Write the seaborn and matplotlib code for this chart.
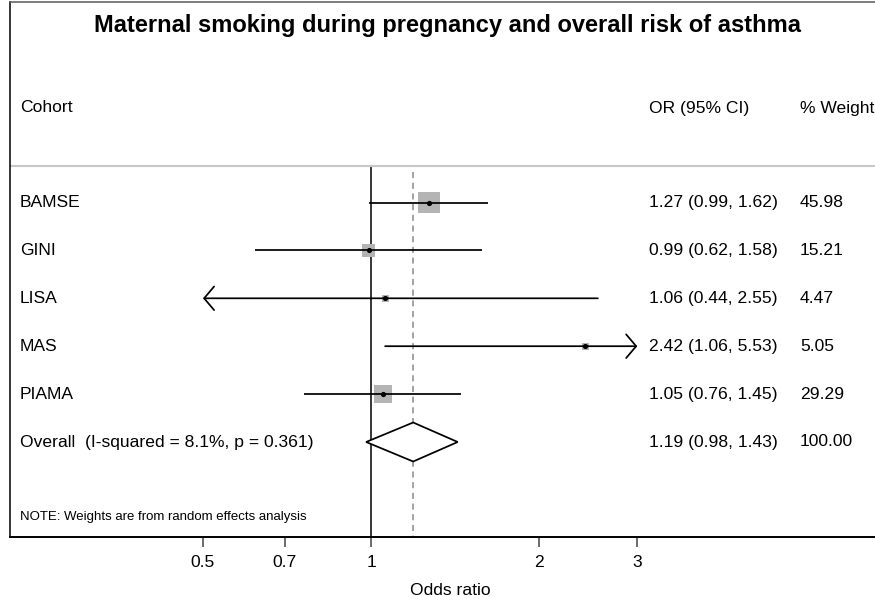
import numpy as np
import pandas as pd
import matplotlib
matplotlib.use("Agg")
import matplotlib.pyplot as plt
import matplotlib.transforms as mtransforms
from matplotlib.ticker import NullLocator, FixedLocator, FixedFormatter
import seaborn as sns

# ---- data -------------------------------------------------------------
title = "Maternal smoking during pregnancy and overall risk of asthma"
cohorts = ["BAMSE", "GINI", "LISA", "MAS", "PIAMA"]
odds_ratio = [1.27, 0.99, 1.06, 2.42, 1.05]
ci_low = [0.99, 0.62, 0.44, 1.06, 0.76]
ci_high = [1.62, 1.58, 2.55, 5.53, 1.45]
weights = [45.98, 15.21, 4.47, 5.05, 29.29]

overall_label = "Overall  (I-squared = 8.1%, p = 0.361)"
overall_or = 1.19
overall_low = 0.98
overall_high = 1.43
overall_weight = 100.00

tick_values = [0.5, 0.7, 1, 2, 3]
tick_labels = ["0.5", "0.7", "1", "2", "3"]
plot_range = (0.5, 3)          # intervals beyond this are drawn as arrows
note = "NOTE: Weights are from random effects analysis"

# ---- layout (pixels of the 875 x 597 canvas) --------------------------
W, H = 875, 597
FRAME_L, FRAME_R, FRAME_T, FRAME_B = 10, 890, 2, 537
ONE_PX, PX_PER_LOG = 371, 242.4      # where OR = 1 sits, and log-scale stretch
ROW0_PX, ROW_PX = 202.5, 47.9        # first study row and row spacing


def ypx(p):
    return (p - ROW0_PX) / ROW_PX


def xfrac(p):
    return (p - FRAME_L) / (FRAME_R - FRAME_L)


sns.set_theme(style="white")
plt.rcParams["font.family"] = ["Liberation Sans", "DejaVu Sans"]
plt.rcParams["text.color"] = "black"
plt.rcParams["axes.labelcolor"] = "black"
plt.rcParams["xtick.color"] = "black"

fig = plt.figure(figsize=(W / 100, H / 100), dpi=100)
ax = fig.add_axes([FRAME_L / W, (H - FRAME_B) / H,
                   (FRAME_R - FRAME_L) / W, (FRAME_B - FRAME_T) / H])
ax.set_xscale("log")

rows = np.arange(len(cohorts))
df = pd.DataFrame({
    "cohort": cohorts,
    "or_": odds_ratio,
    "row": rows,
    # Stata-style boxes: area proportional to the study weight
    "box_area": 5.44 * np.asarray(weights),
})

amin, amax = df["box_area"].min(), df["box_area"].max()
sns.scatterplot(data=df, x="or_", y="row", size="box_area",
                sizes=(amin, amax), size_norm=(amin, amax),
                marker="s", color="#b4b4b4", linewidth=0,
                legend=False, ax=ax, zorder=2)
sns.scatterplot(data=df, x="or_", y="row", s=14, color="black",
                linewidth=0, legend=False, ax=ax, zorder=4)

# confidence intervals, with arrows where they leave the plotted range
lo_lim, hi_lim = plot_range
for r, lo, hi in zip(rows, ci_low, ci_high):
    lo_c, hi_c = max(lo, lo_lim), min(hi, hi_lim)
    if lo < lo_lim or hi > hi_lim:
        start, end = (hi_c, lo_c) if lo < lo_lim else (lo_c, hi_c)
        ax.annotate("", xy=(end, r), xytext=(start, r),
                    arrowprops=dict(arrowstyle="->,head_length=0.72,head_width=0.85",
                                    mutation_scale=10, lw=1.25, color="black",
                                    shrinkA=0, shrinkB=0), zorder=3)
    else:
        ax.hlines(r, lo_c, hi_c, color="black", lw=1.25, zorder=3)

# pooled estimate diamond
orow = len(cohorts)
half = 19.5 / ROW_PX
ax.fill([overall_low, overall_or, overall_high, overall_or],
        [orow, orow - half, orow, orow + half],
        facecolor="white", edgecolor="black", lw=1.25, zorder=3)

ybot, ytop = ypx(FRAME_B), ypx(FRAME_T)
ax.set_xlim(np.exp((FRAME_L - ONE_PX) / PX_PER_LOG),
            np.exp((FRAME_R - ONE_PX) / PX_PER_LOG))
ax.set_ylim(ybot, ytop)

# reference lines
ax.vlines(1, ypx(166), ybot, color="black", lw=1.1, zorder=1)
ax.vlines(overall_or, ypx(172), ybot, color="#8a8a8a", lw=1.1,
          linestyles=(0, (4, 3)), zorder=1)
ax.axhline(ypx(166), color="#c8c8c8", lw=1.5, zorder=1)

# text columns
tr = mtransforms.blended_transform_factory(ax.transAxes, ax.transData)
fs = 12.6
col_label, col_ci, col_w = xfrac(20), xfrac(649), xfrac(800)
hy = ypx(108)
ax.text(col_label, hy, "Cohort", transform=tr, ha="left", va="center", fontsize=fs)
ax.text(col_ci, hy, "OR (95% CI)", transform=tr, ha="left", va="center", fontsize=fs)
ax.text(col_w, hy, "% Weight", transform=tr, ha="left", va="center", fontsize=fs)

for r, c, o, lo, hi, w in zip(rows, cohorts, odds_ratio, ci_low, ci_high, weights):
    ax.text(col_label, r, c, transform=tr, ha="left", va="center", fontsize=fs)
    ax.text(col_ci, r, f"{o:.2f} ({lo:.2f}, {hi:.2f})", transform=tr,
            ha="left", va="center", fontsize=fs)
    ax.text(col_w, r, f"{w:.2f}", transform=tr, ha="left", va="center", fontsize=fs)

ax.text(col_label, orow, overall_label, transform=tr, ha="left", va="center", fontsize=fs)
ax.text(col_ci, orow, f"{overall_or:.2f} ({overall_low:.2f}, {overall_high:.2f})",
        transform=tr, ha="left", va="center", fontsize=fs)
ax.text(col_w, orow, f"{overall_weight:.2f}", transform=tr, ha="left",
        va="center", fontsize=fs)

ax.text(col_label, ypx(517), note, transform=tr, ha="left", va="center", fontsize=9.5)

fig.text(448 / W, 1 - 32 / H, title, ha="center", va="baseline",
         fontsize=17, fontweight="bold")

# axes styling
ax.xaxis.set_major_locator(FixedLocator(tick_values))
ax.xaxis.set_major_formatter(FixedFormatter(tick_labels))
ax.xaxis.set_minor_locator(NullLocator())
ax.set_yticks([])
ax.tick_params(axis="x", which="major", bottom=True, length=7.5, width=1.1,
               color="#444444", labelsize=fs, pad=5.5, labelcolor="black")
ax.set_xlabel("Odds ratio", fontsize=fs, labelpad=9)
ax.set_ylabel("")
ax.spines["left"].set_color("black")
ax.spines["left"].set_linewidth(1.1)
ax.spines["top"].set_color("#5a5a5a")
ax.spines["top"].set_linewidth(1.1)
ax.spines["bottom"].set_color("black")
ax.spines["bottom"].set_linewidth(1.4)
ax.spines["right"].set_visible(False)
ax.set_facecolor("white")
fig.patch.set_facecolor("white")

fig.savefig("out.png", dpi=100)
